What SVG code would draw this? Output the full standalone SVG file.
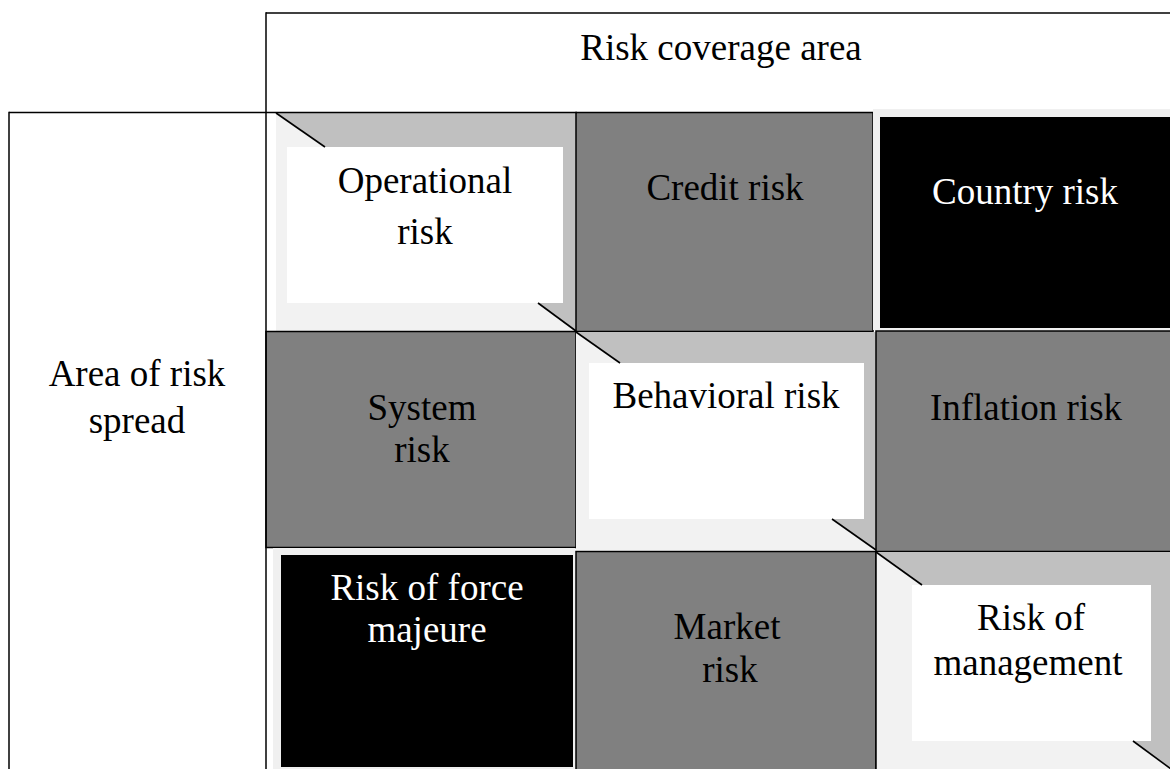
<svg xmlns="http://www.w3.org/2000/svg" width="1170" height="769" viewBox="0 0 1170 769">
  <style>
    text { font-family: "Liberation Serif", "Times New Roman", serif; font-size: 37px; text-anchor: middle; }
    .dk { fill: #000000; }
    .wt { fill: #ffffff; }
    .grey { fill: #808080; stroke: #000000; stroke-width: 1.5; }
    .bev-dark { fill: #c0c0c0; }
    .bev-light { fill: #f2f2f2; }
    .face { fill: #ffffff; }
    .frame { fill: #f0f0f0; }
    .black { fill: #000000; }
    .diag { stroke: #000000; stroke-width: 1.6; fill: none; }
    .line { stroke: #000000; stroke-width: 1.5; fill: none; }
  </style>
  <rect width="1170" height="769" fill="#ffffff"/>

  <g id="header">
    <text class="dk" x="721" y="60">Risk coverage area</text>
  </g>

  <g id="side">
    <text class="dk" x="137" y="386">Area of risk</text>
    <text class="dk" x="137" y="433">spread</text>
  </g>

  <g id="operational">
    <rect class="bev-dark" x="276" y="113" width="300" height="219"/>
    <polygon class="bev-light" points="276,113 325,147 325,303 538,303 576,332 276,332"/>
    <rect class="face" x="287" y="147" width="276" height="156"/>
    <line class="diag" x1="276" y1="113" x2="325" y2="147"/>
    <line class="diag" x1="538" y1="303" x2="576" y2="331"/>
    <text class="dk" x="425" y="193">Operational</text>
    <text class="dk" x="425" y="244">risk</text>
  </g>

  <g id="credit">
    <rect class="grey" x="576" y="112.5" width="297" height="219"/>
    <text class="dk" x="725" y="200">Credit risk</text>
  </g>

  <g id="country">
    <rect class="frame" x="873" y="109" width="297" height="221"/>
    <rect class="black" x="880" y="117" width="290" height="211"/>
    <text class="wt" x="1025" y="204">Country risk</text>
  </g>

  <g id="system">
    <rect class="grey" x="266" y="331.5" width="310" height="216"/>
    <text class="dk" x="422" y="420">System</text>
    <text class="dk" x="422" y="462">risk</text>
  </g>

  <g id="behavioral">
    <rect class="bev-dark" x="576" y="332" width="300" height="218"/>
    <polygon class="bev-light" points="576,332 620,363 620,519 832,519 876,550 576,550"/>
    <rect class="face" x="589" y="363" width="275" height="156"/>
    <line class="diag" x1="576" y1="332" x2="620" y2="363"/>
    <line class="diag" x1="832" y1="519" x2="876" y2="550"/>
    <text class="dk" x="726" y="408">Behavioral risk</text>
  </g>

  <g id="inflation">
    <rect class="grey" x="876" y="331" width="296" height="220.5"/>
    <text class="dk" x="1026" y="420">Inflation risk</text>
  </g>

  <g id="force-majeure">
    <rect class="frame" x="273" y="548" width="302" height="221"/>
    <rect class="black" x="281" y="555" width="292" height="212"/>
    <text class="wt" x="427" y="600">Risk of force</text>
    <text class="wt" x="427" y="642">majeure</text>
  </g>

  <g id="market">
    <rect class="grey" x="576" y="551.5" width="300" height="220"/>
    <text class="dk" x="727" y="639">Market</text>
    <text class="dk" x="730" y="682">risk</text>
  </g>

  <g id="management">
    <rect class="bev-dark" x="876" y="552" width="294" height="217"/>
    <polygon class="bev-light" points="876,552 922,585 922,741 1133,741 1170,768 1170,769 876,769"/>
    <rect class="face" x="912" y="585" width="239" height="156"/>
    <line class="diag" x1="876" y1="552" x2="922" y2="585"/>
    <line class="diag" x1="1133" y1="741" x2="1171" y2="769"/>
    <text class="dk" x="1031" y="630">Risk of</text>
    <text class="dk" x="1028" y="675">management</text>
  </g>

  <g id="table-lines">
    <line class="line" x1="266" y1="13" x2="1170" y2="13"/>
    <line class="line" x1="266" y1="12.25" x2="266" y2="769"/>
    <line class="line" x1="9" y1="112.5" x2="577" y2="112.5"/>
    <line class="line" x1="9" y1="111.75" x2="9" y2="769"/>
    <line class="line" x1="876" y1="551" x2="876" y2="769"/>
  </g>
</svg>
